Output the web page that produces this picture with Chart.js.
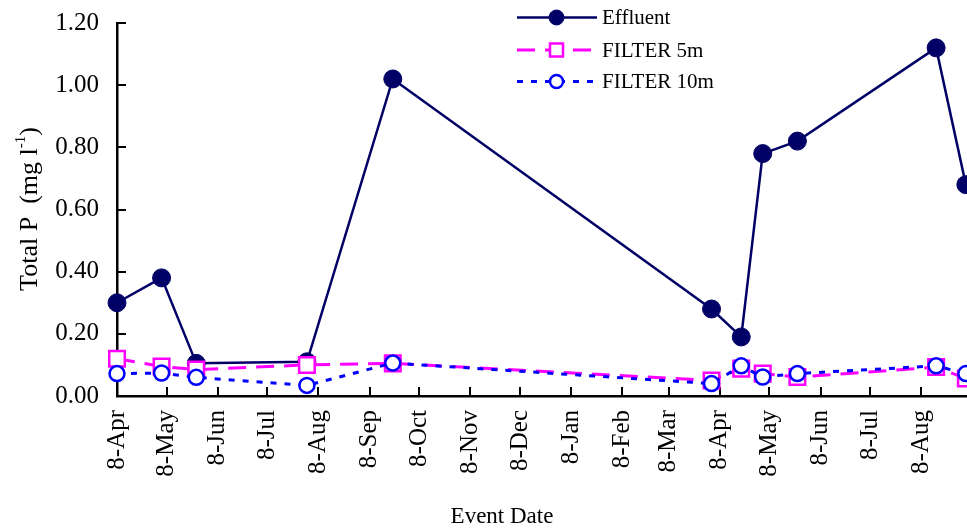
<!DOCTYPE html>
<html lang="en">
<head>
<meta charset="UTF-8" />
<meta name="viewport" content="width=device-width, initial-scale=1.0" />
<title>Total P by Event Date</title>
<script src="https://cdn.jsdelivr.net/npm/chart.js"></script>
<style>
  html, body { margin: 0; padding: 0; background: #fff; overflow: hidden; }
  #wrap { position: relative; width: 967px; height: 532px; }
</style>
</head>
<body>
<div id="wrap"><canvas id="chartCanvas"></canvas></div>
<script>
// event dates and Total P values, mg/l
const startDate = "2006-04-08";
const eventDates = ["2006-04-08", "2006-05-05", "2006-05-26", "2006-08-01", "2006-09-22",
  "2007-04-03", "2007-04-21", "2007-05-04", "2007-05-25", "2007-08-17", "2007-09-04"];
const effluent = [0.30, 0.38, 0.105, 0.11, 1.02, 0.28, 0.19, 0.78, 0.82, 1.12, 0.68];
const filter5m = [0.12, 0.095, 0.085, 0.10, 0.105, 0.05, 0.088, 0.072, 0.061, 0.093, 0.056];
const filter10m = [0.072, 0.074, 0.06, 0.034, 0.106, 0.04, 0.097, 0.061, 0.072, 0.097, 0.072];

const tickDates = ["2006-04-08", "2006-05-08", "2006-06-08", "2006-07-08", "2006-08-08",
  "2006-09-08", "2006-10-08", "2006-11-08", "2006-12-08", "2007-01-08", "2007-02-08",
  "2007-03-08", "2007-04-08", "2007-05-08", "2007-06-08", "2007-07-08", "2007-08-08"];
const tickLabels = ["8-Apr", "8-May", "8-Jun", "8-Jul", "8-Aug", "8-Sep", "8-Oct", "8-Nov",
  "8-Dec", "8-Jan", "8-Feb", "8-Mar", "8-Apr", "8-May", "8-Jun", "8-Jul", "8-Aug"];
const yTicks = [0, 0.2, 0.4, 0.6, 0.8, 1.0, 1.2];
const xEnd = "2007-09-04";

const serif = "'Liberation Serif', 'Times New Roman', serif";

function dayOf(s) {
  const p = s.split("-").map(Number);
  const a = startDate.split("-").map(Number);
  return (Date.UTC(p[0], p[1] - 1, p[2]) - Date.UTC(a[0], a[1] - 1, a[2])) / 864e5;
}
function points(values) {
  return eventDates.map((d, i) => ({ x: dayOf(d), y: values[i] }));
}
const tickDays = tickDates.map(dayOf);

// inward tick marks, custom legend and axis titles
const decorations = {
  id: "decorations",
  beforeDatasetsDraw(chart) {
    const { ctx, chartArea, scales } = chart;
    ctx.save();
    ctx.strokeStyle = "#000";
    ctx.lineWidth = 2;
    ctx.beginPath();
    scales.x.ticks.forEach((t) => {
      const px = Math.round(scales.x.getPixelForValue(t.value));
      ctx.moveTo(px, chartArea.bottom);
      ctx.lineTo(px, chartArea.bottom - 9);
    });
    scales.y.ticks.forEach((t) => {
      const py = Math.round(scales.y.getPixelForValue(t.value));
      ctx.moveTo(chartArea.left, py);
      ctx.lineTo(chartArea.left + 9, py);
    });
    ctx.stroke();
    ctx.restore();
  },
  afterDraw(chart) {
    const ctx = chart.ctx;
    ctx.save();

    // legend
    const rows = [17.5, 50, 81.5];
    chart.data.datasets.forEach((ds, i) => {
      const y = rows[i];
      ctx.strokeStyle = ds.borderColor;
      ctx.lineWidth = ds.borderWidth;
      ctx.setLineDash(ds.borderDash || []);
      ctx.beginPath();
      ctx.moveTo(517, y);
      ctx.lineTo(597, y);
      ctx.stroke();
      ctx.setLineDash([]);
      ctx.fillStyle = ds.pointBackgroundColor;
      ctx.lineWidth = ds.pointBorderWidth;
      ctx.beginPath();
      if (ds.pointStyle === "rect") {
        ctx.rect(550, y - 6.5, 13, 13);
      } else {
        ctx.arc(556.5, y, ds.legendRadius, 0, Math.PI * 2);
      }
      ctx.fill();
      ctx.stroke();
      ctx.fillStyle = "#000";
      ctx.font = "21px " + serif;
      ctx.textAlign = "left";
      ctx.textBaseline = "middle";
      ctx.fillText(ds.label, 602, y + 1);
    });

    // x axis title
    ctx.fillStyle = "#000";
    ctx.font = "23px " + serif;
    ctx.textAlign = "center";
    ctx.textBaseline = "middle";
    ctx.fillText("Event Date", 502, 517);

    // y axis title with superscript
    const main = "Total P  (mg l";
    const sup = "-1";
    const close = ")";
    const big = "26px " + serif;
    const small = "15px " + serif;
    ctx.font = big;
    const w1 = ctx.measureText(main).width;
    const w3 = ctx.measureText(close).width;
    ctx.font = small;
    const w2 = ctx.measureText(sup).width;
    const total = w1 + w2 + w3;
    ctx.translate(28, 209);
    ctx.rotate(-Math.PI / 2);
    ctx.textAlign = "left";
    ctx.textBaseline = "alphabetic";
    const x0 = -total / 2;
    ctx.font = big;
    ctx.fillText(main, x0, 9);
    ctx.font = small;
    ctx.fillText(sup, x0 + w1, -3);
    ctx.font = big;
    ctx.fillText(close, x0 + w1 + w2, 9);
    ctx.restore();
  }
};

const ctx = document.getElementById("chartCanvas").getContext("2d");
new Chart(ctx, {
  type: "line",
  data: {
    datasets: [
      {
        label: "Effluent",
        data: points(effluent),
        borderColor: "#000066",
        backgroundColor: "#000066",
        borderWidth: 2.5,
        pointStyle: "circle",
        pointRadius: 9,
        pointBackgroundColor: "#000066",
        pointBorderColor: "#000066",
        pointBorderWidth: 1,
        legendRadius: 7.5,
        order: 3,
        clip: false,
      },
      {
        label: "FILTER 5m",
        data: points(filter5m),
        borderColor: "#ff00ff",
        borderWidth: 3,
        borderDash: [18, 10],
        pointStyle: "rect",
        pointRadius: 11,
        pointBackgroundColor: "#ffffff",
        pointBorderColor: "#ff00ff",
        pointBorderWidth: 2.5,
        order: 2,
        clip: false,
      },
      {
        label: "FILTER 10m",
        data: points(filter10m),
        borderColor: "#0000ff",
        borderWidth: 3,
        borderDash: [6, 8],
        pointStyle: "circle",
        pointRadius: 7.5,
        pointBackgroundColor: "#ffffff",
        pointBorderColor: "#0000ff",
        pointBorderWidth: 2.5,
        legendRadius: 6.5,
        order: 1,
        clip: false,
      },
    ],
  },
  options: {
    responsive: true,
    maintainAspectRatio: false,
    animation: false,
    layout: { autoPadding: false, padding: { top: 23, right: 0, left: 0, bottom: 0 } },
    elements: { line: { tension: 0 } },
    plugins: { legend: { display: false }, tooltip: { enabled: false } },
    scales: {
      x: {
        type: "linear",
        min: 0,
        max: dayOf(xEnd) + 0.7,
        grid: { display: false, drawTicks: false },
        border: { display: true, color: "#000", width: 2.5 },
        afterBuildTicks: (s) => { s.ticks = tickDays.map((v) => ({ value: v })); },
        afterFit: (s) => { s.height = 136; s.paddingLeft = 0; s.paddingRight = 0; },
        ticks: {
          autoSkip: false,
          minRotation: 90,
          maxRotation: 90,
          padding: 14,
          color: "#000",
          font: { family: serif, size: 25 },
          callback: (v) => tickLabels[tickDays.indexOf(v)] || "",
        },
      },
      y: {
        min: 0,
        max: 1.2,
        grid: { display: false, drawTicks: false },
        border: { display: true, color: "#000", width: 2.5 },
        afterBuildTicks: (s) => { s.ticks = yTicks.map((v) => ({ value: v })); },
        afterFit: (s) => { s.width = 117; s.paddingTop = 0; s.paddingBottom = 0; },
        ticks: {
          padding: 18,
          color: "#000",
          font: { family: serif, size: 25 },
          callback: (v) => v.toFixed(2),
        },
      },
    },
  },
  plugins: [decorations],
});
</script>
</body>
</html>
